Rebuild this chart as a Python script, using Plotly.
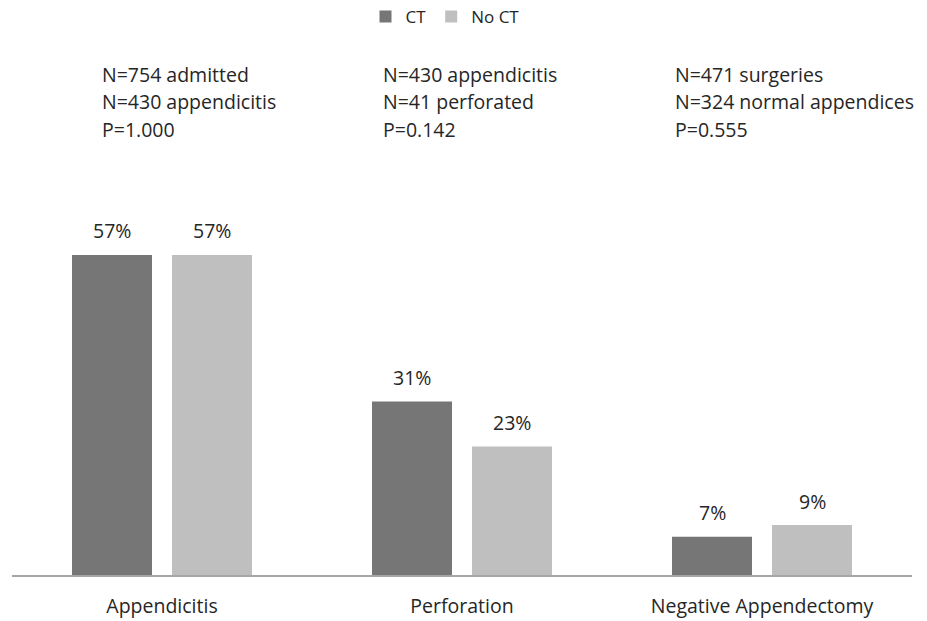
import plotly.graph_objects as go

categories = ["Appendicitis", "Perforation", "Negative Appendectomy"]
ct_values = [57.0, 30.9, 6.8]
no_ct_values = [57.0, 22.9, 8.9]
ct_labels = ["57%", "31%", "7%"]
no_ct_labels = ["57%", "23%", "9%"]
series_names = ["CT", "No CT"]
note_lines = [
    ["N=754 admitted", "N=430 appendicitis", "P=1.000"],
    ["N=430 appendicitis", "N=41 perforated", "P=0.142"],
    ["N=471 surgeries", "N=324 normal appendices", "P=0.555"],
]

W, H = 927, 621
L, R, B, T = 12, 15, 46, 182
plot_w = W - L - R
plot_h = H - T - B
YMAX = 70

FONT = "Open Sans, Noto Sans, sans-serif"
FS = 19.5
TXT = "#262626"
C_CT = "#767676"
C_NO = "#bfbfbf"

fig = go.Figure()
fig.add_trace(go.Bar(name=series_names[0], x=categories, y=ct_values,
                     marker=dict(color=C_CT, line=dict(width=0))))
fig.add_trace(go.Bar(name=series_names[1], x=categories, y=no_ct_values,
                     marker=dict(color=C_NO, line=dict(width=0))))

annotations = []
# value labels
for vals, labs, shift in ((ct_values, ct_labels, -50), (no_ct_values, no_ct_labels, 50)):
    for c, v, t in zip(categories, vals, labs):
        annotations.append(dict(x=c, y=v, xref="x", yref="y", text=t, showarrow=False,
                                xshift=shift, yshift=24, yanchor="middle", xanchor="center",
                                font=dict(family=FONT, size=FS, color=TXT)))

# notes above the chart
note_x_px = [100, 381, 673]
line_y_px = [74, 102, 130]
for px, lines in zip(note_x_px, note_lines):
    for py, t in zip(line_y_px, lines):
        annotations.append(dict(x=(px - L) / plot_w, y=(H - B - py) / plot_h,
                                xref="paper", yref="paper", text=t, showarrow=False,
                                xanchor="left", yanchor="middle",
                                font=dict(family=FONT, size=FS, color=TXT)))

fig.update_layout(
    width=W, height=H,
    margin=dict(l=L, r=R, t=T, b=B, autoexpand=False),
    paper_bgcolor="white", plot_bgcolor="white",
    barmode="group", bargap=1/3, bargroupgap=0.2,
    font=dict(family=FONT, size=FS, color=TXT),
    showlegend=True,
    legend=dict(orientation="h", x=(445 - L) / plot_w, xanchor="center",
                y=(H - B - 17) / plot_h, yanchor="middle",
                font=dict(family=FONT, size=17, color=TXT),
                itemwidth=30, tracegroupgap=0),
    annotations=annotations,
    xaxis=dict(showline=True, linecolor="#a6a6a6", linewidth=2, showgrid=False,
               ticks="outside", ticklen=13, tickcolor="rgba(0,0,0,0)",
               tickfont=dict(family=FONT, size=FS, color=TXT), zeroline=False),
    yaxis=dict(range=[0, YMAX], visible=False, showgrid=False, zeroline=False),
)

fig.write_html("out.html", config={"displayModeBar": False},
               post_script="document.body.style.margin='0px';document.body.style.padding='0px';")
